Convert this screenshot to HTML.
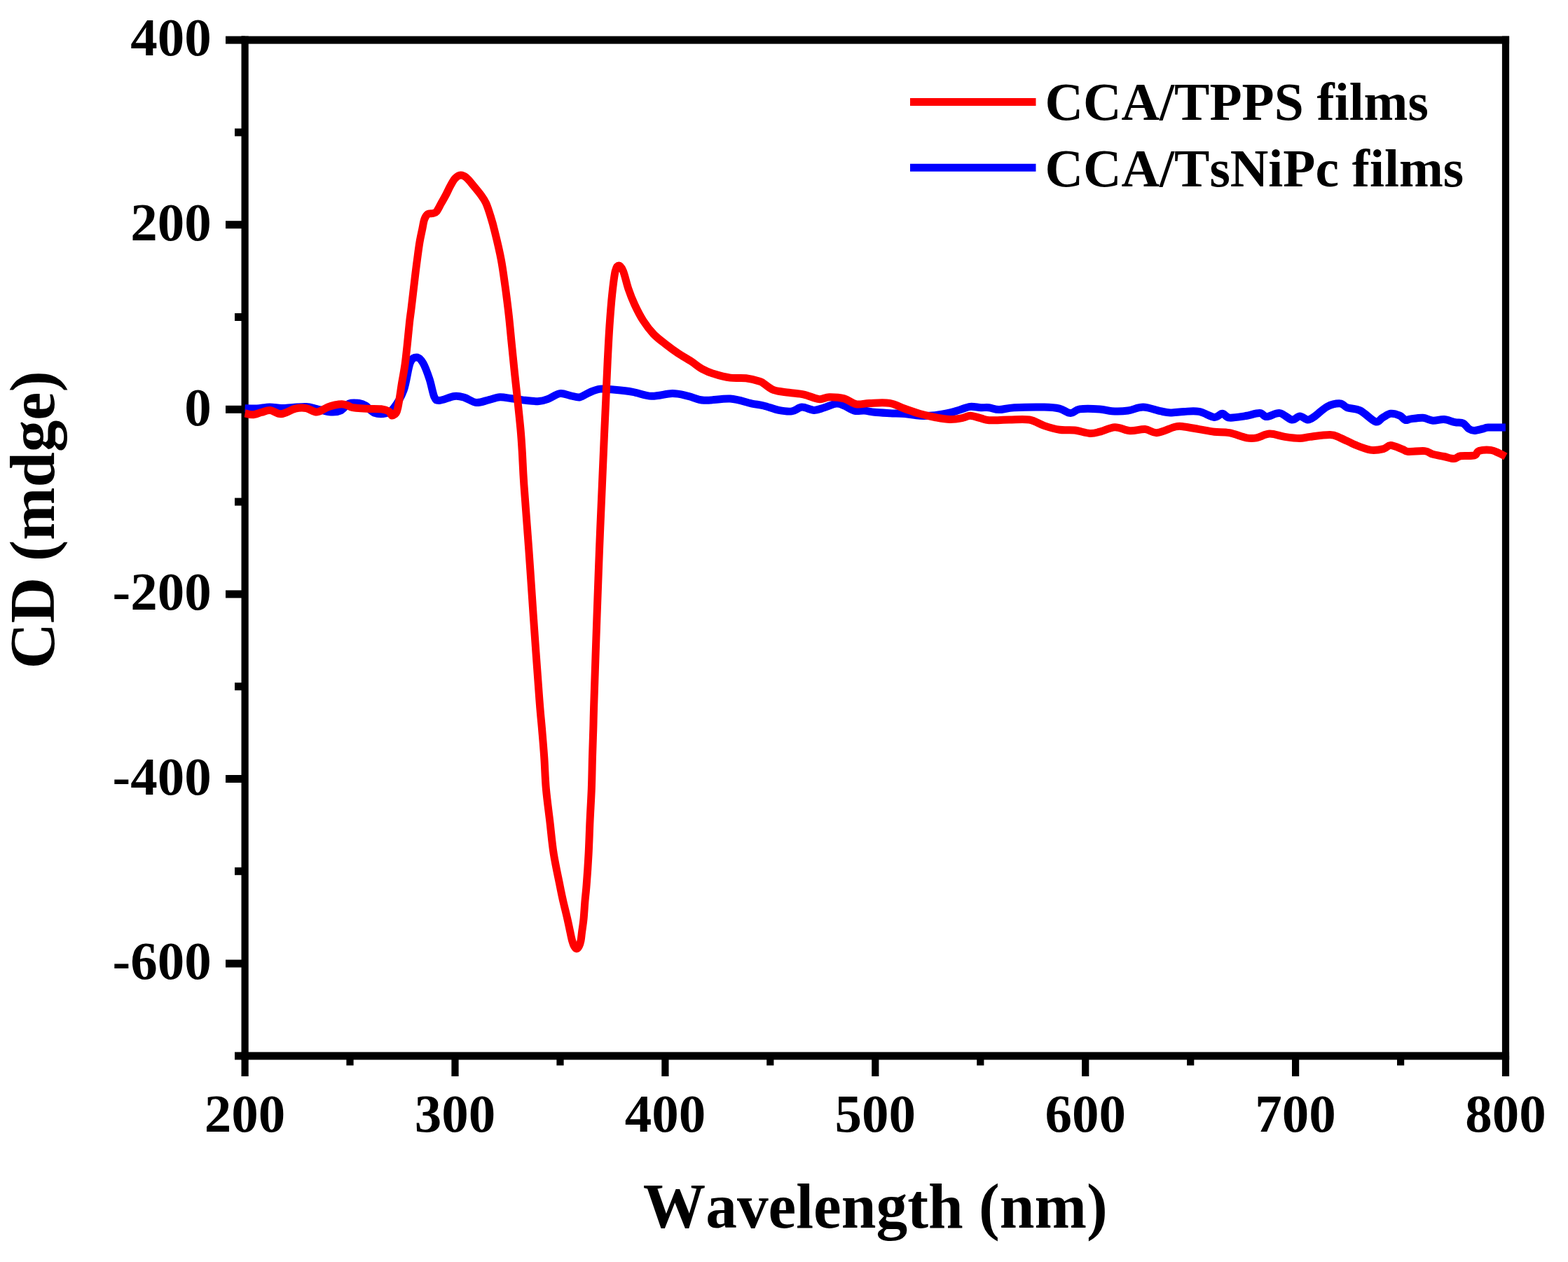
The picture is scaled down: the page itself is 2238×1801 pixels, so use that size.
<!DOCTYPE html>
<html><head><meta charset="utf-8"><title>CD spectra</title>
<style>html,body{margin:0;padding:0;background:#fff;}svg{display:block;}</style>
</head><body>
<svg width="2238" height="1801" viewBox="0 0 2238 1801">
<rect width="2238" height="1801" fill="#fff"/>
<rect x="344.5" y="51.6" width="1809.6" height="11.0" fill="#000"/>
<rect x="344.5" y="1501.4" width="1809.6" height="11.0" fill="#000"/>
<rect x="344.5" y="51.6" width="10.2" height="1460.8" fill="#000"/>
<rect x="2143.9" y="51.6" width="10.2" height="1460.8" fill="#000"/>
<rect x="335.0" y="1501.4" width="14.6" height="11.0" fill="#000"/>
<rect x="322.0" y="1369.6" width="27.6" height="11.0" fill="#000"/>
<rect x="335.0" y="1237.8" width="14.6" height="11.0" fill="#000"/>
<rect x="322.0" y="1106.0" width="27.6" height="11.0" fill="#000"/>
<rect x="335.0" y="974.2" width="14.6" height="11.0" fill="#000"/>
<rect x="322.0" y="842.4" width="27.6" height="11.0" fill="#000"/>
<rect x="335.0" y="710.6" width="14.6" height="11.0" fill="#000"/>
<rect x="322.0" y="578.8" width="27.6" height="11.0" fill="#000"/>
<rect x="335.0" y="447.0" width="14.6" height="11.0" fill="#000"/>
<rect x="322.0" y="315.2" width="27.6" height="11.0" fill="#000"/>
<rect x="335.0" y="183.4" width="14.6" height="11.0" fill="#000"/>
<rect x="322.0" y="51.6" width="27.6" height="11.0" fill="#000"/>
<rect x="344.5" y="1506.9" width="10.2" height="29.1" fill="#000"/>
<rect x="494.4" y="1506.9" width="10.2" height="13.6" fill="#000"/>
<rect x="644.4" y="1506.9" width="10.2" height="29.1" fill="#000"/>
<rect x="794.4" y="1506.9" width="10.2" height="13.6" fill="#000"/>
<rect x="944.3" y="1506.9" width="10.2" height="29.1" fill="#000"/>
<rect x="1094.2" y="1506.9" width="10.2" height="13.6" fill="#000"/>
<rect x="1244.2" y="1506.9" width="10.2" height="29.1" fill="#000"/>
<rect x="1394.2" y="1506.9" width="10.2" height="13.6" fill="#000"/>
<rect x="1544.1" y="1506.9" width="10.2" height="29.1" fill="#000"/>
<rect x="1694.1" y="1506.9" width="10.2" height="13.6" fill="#000"/>
<rect x="1844.0" y="1506.9" width="10.2" height="29.1" fill="#000"/>
<rect x="1994.0" y="1506.9" width="10.2" height="13.6" fill="#000"/>
<rect x="2143.9" y="1506.9" width="10.2" height="29.1" fill="#000"/>
<path d="M349.6,582.7 C352.5,582.8 360.8,583.3 366.7,583.0 C372.6,582.7 379.0,581.1 384.8,581.0 C390.6,580.9 396.0,582.4 401.5,582.5 C407.0,582.6 412.1,581.8 418.0,581.5 C423.9,581.2 431.3,580.2 437.0,580.5 C442.7,580.8 446.1,582.2 452.0,583.5 C457.9,584.8 466.7,587.6 472.4,588.0 C478.1,588.4 481.7,588.0 486.0,586.0 C490.3,584.0 493.5,577.8 498.0,576.0 C502.5,574.2 508.8,575.0 512.8,575.5 C516.8,576.0 518.5,576.8 522.0,579.0 C525.5,581.2 529.3,587.2 534.0,589.0 C538.7,590.8 545.8,591.0 550.4,590.0 C555.0,589.0 557.2,588.5 561.5,583.0 C565.8,577.5 572.1,568.0 576.1,557.2 C580.1,546.4 582.2,525.9 585.3,518.0 C588.4,510.1 591.5,510.0 594.6,510.0 C597.7,510.0 600.7,512.8 603.8,518.0 C606.9,523.2 610.3,532.9 613.0,541.0 C615.7,549.1 617.6,561.3 619.9,566.4 C622.2,571.5 622.0,571.6 626.8,571.5 C631.6,571.4 642.6,566.2 648.6,565.5 C654.6,564.8 657.7,565.9 662.9,567.4 C668.1,568.9 673.9,574.0 679.7,574.5 C685.5,575.0 692.3,571.9 697.9,570.6 C703.5,569.3 708.1,567.1 713.5,566.8 C718.9,566.5 724.3,568.0 730.4,568.7 C736.5,569.5 743.4,570.6 749.9,571.3 C756.4,571.9 764.0,572.9 769.4,572.6 C774.8,572.3 777.3,571.2 782.3,569.4 C787.3,567.6 793.8,562.4 799.2,561.6 C804.6,560.8 810.0,563.9 814.8,564.8 C819.6,565.7 823.5,567.5 827.8,566.8 C832.1,566.0 836.0,562.2 840.8,560.3 C845.6,558.3 850.3,555.8 856.4,555.1 C862.5,554.4 869.7,555.6 877.5,556.3 C885.3,557.0 894.3,557.8 903.0,559.3 C911.7,560.8 920.4,564.9 929.9,565.3 C939.4,565.7 951.1,561.6 959.9,561.6 C968.6,561.6 974.9,563.7 982.4,565.3 C989.9,566.9 994.8,570.7 1004.8,571.3 C1014.8,571.9 1031.0,568.4 1042.3,569.1 C1053.5,569.9 1064.3,574.1 1072.3,575.8 C1080.2,577.4 1083.5,577.4 1090.0,579.0 C1096.5,580.6 1104.9,584.1 1111.6,585.4 C1118.3,586.7 1124.8,587.6 1130.3,586.9 C1135.8,586.2 1139.3,581.4 1144.6,581.1 C1149.9,580.9 1156.6,585.3 1161.9,585.4 C1167.2,585.5 1171.0,583.3 1176.3,581.8 C1181.6,580.2 1188.7,576.6 1193.5,576.1 C1198.3,575.6 1200.7,577.3 1205.0,579.0 C1209.3,580.7 1214.6,584.9 1219.4,586.1 C1224.2,587.3 1229.0,585.7 1233.8,586.1 C1238.6,586.5 1242.2,587.7 1248.2,588.3 C1254.2,588.9 1262.5,589.3 1269.7,589.7 C1276.9,590.1 1284.1,589.9 1291.3,590.5 C1298.5,591.1 1305.7,592.9 1312.9,593.3 C1320.1,593.6 1327.2,593.3 1334.4,592.6 C1341.6,591.9 1350.0,590.3 1356.0,589.0 C1362.0,587.7 1365.6,586.1 1370.4,584.7 C1375.2,583.3 1379.9,580.9 1384.8,580.4 C1389.7,579.9 1395.5,581.5 1400.0,581.7 C1404.5,581.9 1407.3,581.2 1411.6,581.7 C1415.9,582.2 1420.0,584.6 1426.0,584.6 C1432.0,584.6 1436.7,582.3 1447.5,581.7 C1458.3,581.1 1479.8,580.8 1490.6,581.0 C1501.4,581.2 1506.0,581.7 1512.2,583.1 C1518.4,584.5 1523.2,589.5 1528.0,589.6 C1532.8,589.7 1534.0,584.9 1541.0,583.9 C1548.0,582.9 1562.0,583.4 1569.7,583.9 C1577.4,584.4 1580.3,586.4 1587.0,586.7 C1593.7,587.1 1602.6,587.0 1610.0,586.0 C1617.4,585.0 1623.9,580.9 1631.6,581.0 C1639.3,581.1 1649.5,585.4 1656.0,586.7 C1662.5,588.0 1664.7,588.8 1670.4,588.9 C1676.1,589.0 1683.1,587.6 1690.0,587.4 C1696.9,587.1 1704.4,586.1 1711.6,587.4 C1718.8,588.7 1727.6,594.9 1733.1,595.4 C1738.6,595.9 1741.0,590.2 1744.6,590.3 C1748.2,590.4 1749.4,595.5 1754.7,596.1 C1760.0,596.7 1769.1,595.0 1776.3,593.9 C1783.5,592.8 1792.5,589.5 1797.8,589.6 C1803.1,589.7 1803.1,594.6 1807.9,594.6 C1812.7,594.6 1820.6,588.9 1826.6,589.6 C1832.6,590.3 1839.0,598.3 1843.8,599.0 C1848.6,599.7 1851.4,593.9 1855.3,593.9 C1859.2,593.9 1863.3,599.0 1866.9,599.0 C1870.5,599.0 1872.4,597.0 1876.9,593.9 C1881.5,590.8 1888.2,583.3 1894.2,580.3 C1900.2,577.3 1908.1,575.7 1912.9,575.9 C1917.7,576.1 1918.1,580.0 1922.9,581.7 C1927.7,583.4 1934.9,582.6 1941.6,586.0 C1948.3,589.4 1957.9,600.1 1963.2,601.8 C1968.5,603.5 1969.7,598.0 1973.3,596.1 C1976.9,594.2 1980.7,590.8 1984.8,590.3 C1988.9,589.8 1994.4,591.6 1997.9,593.1 C2001.4,594.6 2003.2,598.6 2005.8,599.4 C2008.4,600.2 2009.5,598.4 2013.7,597.9 C2017.9,597.4 2025.8,595.9 2031.0,596.3 C2036.2,596.7 2040.2,599.8 2045.2,600.2 C2050.2,600.6 2055.7,598.2 2061.0,598.6 C2066.3,599.0 2072.2,601.7 2076.8,602.6 C2081.4,603.5 2085.3,602.6 2088.6,604.2 C2091.9,605.8 2093.9,610.3 2096.5,612.0 C2099.1,613.7 2101.1,614.4 2104.4,614.4 C2107.7,614.4 2112.9,612.7 2116.2,612.0 C2119.5,611.3 2118.6,610.4 2124.1,610.1 C2129.6,609.8 2144.8,610.1 2148.9,610.1" fill="none" stroke="#0000ff" stroke-width="11" stroke-linejoin="round" stroke-linecap="butt"/>
<path d="M349.6,589.8 C351.4,590.1 356.5,592.0 360.4,591.8 C364.3,591.6 368.8,589.5 373.0,588.5 C377.2,587.5 381.2,585.1 385.9,585.5 C390.6,585.9 395.2,591.2 401.2,590.8 C407.1,590.4 415.6,584.6 421.6,583.2 C427.6,581.8 431.9,581.8 437.0,582.6 C442.1,583.4 447.1,588.2 452.2,588.0 C457.3,587.8 463.3,582.8 467.6,581.1 C471.9,579.4 474.6,578.7 478.0,578.0 C481.4,577.3 485.0,576.6 488.0,576.7 C491.0,576.8 493.4,577.7 496.0,578.5 C498.6,579.3 498.7,580.8 503.3,581.6 C507.9,582.4 516.9,582.9 523.7,583.2 C530.5,583.6 538.8,583.1 544.0,583.7 C549.2,584.3 552.4,585.5 555.0,587.0 C557.6,588.5 557.8,592.7 559.5,593.0 C561.2,593.3 564.1,591.0 565.5,589.0 C566.9,587.0 567.1,585.2 568.0,581.0 C568.9,576.8 570.1,569.5 571.0,563.7 C571.9,557.9 572.4,553.6 573.6,546.4 C574.8,539.2 576.8,529.1 578.0,520.5 C579.2,511.9 579.9,504.7 581.0,494.6 C582.1,484.5 583.5,469.3 584.5,460.0 C585.5,450.7 586.0,449.0 587.2,438.8 C588.4,428.6 590.6,410.1 591.9,399.0 C593.2,387.9 594.0,381.3 595.2,372.5 C596.4,363.7 597.6,353.7 598.9,346.0 C600.2,338.3 601.8,331.6 602.9,326.1 C604.0,320.6 604.5,316.3 605.8,312.9 C607.1,309.5 608.5,306.9 610.5,305.5 C612.5,304.1 615.6,305.1 617.7,304.5 C619.8,303.9 621.0,304.4 623.0,302.0 C625.0,299.6 627.4,294.3 629.6,290.4 C631.8,286.5 634.1,282.6 636.3,278.4 C638.5,274.2 640.7,269.2 642.9,265.2 C645.1,261.2 647.1,257.1 649.5,254.6 C651.9,252.1 654.9,250.2 657.5,250.0 C660.1,249.8 662.3,250.8 665.4,253.3 C668.5,255.8 672.5,261.0 676.0,265.2 C679.5,269.4 683.6,274.3 686.6,278.4 C689.6,282.5 691.5,285.1 693.7,290.0 C695.9,294.9 697.9,301.3 700.0,308.0 C702.1,314.7 703.7,319.9 706.2,330.4 C708.8,340.8 712.8,357.2 715.3,370.7 C717.8,384.1 719.5,397.7 721.4,411.1 C723.2,424.6 724.9,437.9 726.4,451.4 C727.9,464.8 729.0,478.4 730.4,491.8 C731.8,505.2 733.1,518.6 734.5,532.1 C735.9,545.6 737.5,559.0 738.9,572.5 C740.3,586.0 741.9,600.7 743.0,612.8 C744.1,624.9 744.5,631.8 745.3,645.0 C746.1,658.2 746.3,669.0 747.9,692.2 C749.5,715.4 752.6,753.6 754.8,784.3 C757.0,815.0 758.6,840.5 761.1,876.5 C763.6,912.5 767.9,972.8 770.0,1000.0 C772.1,1027.2 772.4,1026.7 773.5,1040.0 C774.6,1053.3 775.7,1065.7 776.7,1080.0 C777.7,1094.3 778.0,1110.7 779.4,1126.1 C780.8,1141.5 783.0,1156.8 784.8,1172.2 C786.6,1187.6 787.8,1202.9 790.2,1218.2 C792.6,1233.5 797.0,1253.1 799.2,1264.3 C801.4,1275.5 801.9,1277.7 803.6,1285.4 C805.4,1293.1 808.0,1303.3 809.7,1310.7 C811.4,1318.1 812.6,1324.5 813.8,1329.8 C814.9,1335.1 815.6,1339.0 816.6,1342.4 C817.6,1345.9 818.5,1348.6 819.6,1350.5 C820.7,1352.4 821.9,1354.0 823.0,1354.0 C824.1,1354.0 825.4,1352.4 826.4,1350.5 C827.4,1348.6 828.3,1345.9 829.0,1342.4 C829.7,1339.0 829.9,1335.1 830.6,1329.8 C831.3,1324.5 832.4,1318.1 833.1,1310.7 C833.8,1303.3 834.3,1293.5 835.0,1285.4 C835.7,1277.3 836.4,1273.2 837.2,1262.0 C838.1,1250.8 839.3,1233.2 840.1,1218.2 C840.9,1203.2 841.3,1187.6 842.0,1172.2 C842.7,1156.8 843.7,1141.5 844.3,1126.1 C844.9,1110.7 845.1,1094.3 845.5,1080.0 C845.9,1065.7 846.4,1053.3 846.8,1040.0 C847.2,1026.7 847.0,1027.2 847.9,1000.0 C848.8,972.8 850.8,912.5 852.1,876.5 C853.4,840.5 854.3,815.0 855.5,784.3 C856.7,753.6 858.2,719.6 859.4,692.2 C860.6,664.8 861.6,640.4 862.5,620.0 C863.4,599.6 864.0,587.5 864.8,570.0 C865.6,552.5 866.3,532.5 867.2,515.0 C868.1,497.5 868.9,480.7 870.0,464.9 C871.1,449.1 872.3,433.0 873.7,420.0 C875.1,407.0 876.6,393.8 878.2,387.0 C879.8,380.2 881.6,379.0 883.5,379.0 C885.4,379.0 887.2,381.4 889.5,387.0 C891.8,392.6 894.3,404.5 897.0,412.5 C899.7,420.5 902.4,427.4 905.9,434.9 C909.4,442.4 913.4,450.4 917.9,457.4 C922.4,464.4 927.4,471.1 932.9,476.9 C938.4,482.6 945.1,487.4 950.9,491.9 C956.6,496.4 961.4,499.9 967.4,503.9 C973.4,507.9 981.2,512.2 986.9,515.9 C992.6,519.6 996.3,523.3 1001.8,526.3 C1007.3,529.3 1013.0,531.7 1019.8,533.8 C1026.5,535.9 1034.8,538.1 1042.3,539.1 C1049.8,540.1 1057.8,538.9 1064.8,539.8 C1071.8,540.7 1080.1,543.0 1084.3,544.3 C1088.5,545.5 1086.7,545.2 1090.0,547.3 C1093.3,549.4 1098.4,554.5 1104.4,556.7 C1110.4,558.9 1118.7,559.2 1125.9,560.3 C1133.1,561.4 1140.3,561.5 1147.5,563.1 C1154.7,564.7 1163.1,569.0 1169.1,569.6 C1175.1,570.2 1177.5,566.8 1183.5,566.7 C1189.5,566.6 1198.5,567.2 1205.0,568.9 C1211.5,570.6 1216.3,575.7 1222.3,576.8 C1228.3,577.9 1233.1,575.6 1241.0,575.4 C1248.9,575.2 1261.3,574.1 1269.7,575.4 C1278.1,576.7 1284.1,580.8 1291.3,583.3 C1298.5,585.8 1305.7,588.5 1312.9,590.5 C1320.1,592.5 1327.2,594.2 1334.4,595.5 C1341.6,596.8 1349.3,598.3 1356.0,598.4 C1362.7,598.5 1369.9,597.1 1374.7,596.2 C1379.5,595.4 1380.6,593.2 1384.8,593.3 C1389.0,593.4 1395.5,595.8 1400.0,596.9 C1404.5,598.0 1404.9,599.4 1411.6,599.7 C1418.3,600.1 1430.7,599.1 1440.3,599.0 C1449.9,598.9 1460.7,597.6 1469.1,599.0 C1477.5,600.4 1483.4,605.2 1490.6,607.6 C1497.8,610.0 1505.0,612.2 1512.2,613.3 C1519.4,614.4 1526.6,613.1 1533.8,614.0 C1541.0,614.9 1549.3,618.0 1555.3,618.4 C1561.3,618.8 1563.7,617.7 1569.7,616.2 C1575.7,614.8 1584.1,609.9 1591.3,609.7 C1598.5,609.5 1605.7,614.3 1612.9,614.8 C1620.1,615.3 1627.9,612.1 1634.4,612.6 C1640.9,613.1 1644.5,618.2 1651.7,617.6 C1658.9,617.0 1671.2,610.4 1677.6,609.0 C1684.0,607.6 1684.3,608.4 1690.0,609.0 C1695.7,609.6 1704.4,611.4 1711.6,612.6 C1718.8,613.8 1725.9,615.4 1733.1,616.2 C1740.3,617.0 1747.0,616.2 1754.7,617.6 C1762.4,619.0 1772.6,623.6 1779.1,624.8 C1785.6,626.0 1788.0,625.8 1793.5,624.8 C1799.0,623.8 1805.5,619.3 1812.2,619.1 C1818.9,618.9 1826.6,622.3 1833.8,623.4 C1841.0,624.5 1849.3,625.6 1855.3,625.6 C1861.3,625.6 1862.5,624.2 1869.7,623.4 C1876.9,622.5 1891.3,620.3 1898.5,620.5 C1905.7,620.7 1906.9,622.4 1912.9,624.8 C1918.9,627.2 1927.2,632.0 1934.4,634.9 C1941.6,637.8 1949.3,641.1 1956.0,642.1 C1962.7,643.1 1969.9,641.7 1974.7,640.6 C1979.5,639.5 1980.3,635.5 1984.8,635.6 C1989.3,635.7 1997.6,639.7 2001.8,641.2 C2006.0,642.7 2004.4,644.0 2009.7,644.4 C2015.0,644.8 2027.5,643.0 2033.4,643.6 C2039.3,644.2 2040.6,647.0 2045.2,648.3 C2049.8,649.6 2056.0,650.5 2061.0,651.5 C2066.0,652.5 2071.3,654.7 2075.2,654.6 C2079.1,654.5 2079.7,651.5 2084.6,650.7 C2089.5,649.9 2100.1,651.1 2104.4,649.9 C2108.8,648.7 2106.8,644.9 2110.7,643.6 C2114.6,642.4 2123.2,641.9 2128.0,642.4 C2132.8,642.9 2136.3,645.3 2139.8,646.8 C2143.3,648.3 2147.4,650.7 2148.9,651.5" fill="none" stroke="#ff0000" stroke-width="11" stroke-linejoin="round" stroke-linecap="butt"/>
<text x="301.7" y="1397.4" text-anchor="end" style="font-family:'Liberation Serif','Times New Roman',serif;font-weight:bold;font-kerning:none;font-size:77px">-600</text>
<text x="301.7" y="1133.8" text-anchor="end" style="font-family:'Liberation Serif','Times New Roman',serif;font-weight:bold;font-kerning:none;font-size:77px">-400</text>
<text x="301.7" y="870.2" text-anchor="end" style="font-family:'Liberation Serif','Times New Roman',serif;font-weight:bold;font-kerning:none;font-size:77px">-200</text>
<text x="301.7" y="606.6" text-anchor="end" style="font-family:'Liberation Serif','Times New Roman',serif;font-weight:bold;font-kerning:none;font-size:77px">0</text>
<text x="301.7" y="343.0" text-anchor="end" style="font-family:'Liberation Serif','Times New Roman',serif;font-weight:bold;font-kerning:none;font-size:77px">200</text>
<text x="301.7" y="79.4" text-anchor="end" style="font-family:'Liberation Serif','Times New Roman',serif;font-weight:bold;font-kerning:none;font-size:77px">400</text>
<text x="349.6" y="1615.3" text-anchor="middle" style="font-family:'Liberation Serif','Times New Roman',serif;font-weight:bold;font-kerning:none;font-size:77px">200</text>
<text x="649.5" y="1615.3" text-anchor="middle" style="font-family:'Liberation Serif','Times New Roman',serif;font-weight:bold;font-kerning:none;font-size:77px">300</text>
<text x="949.4" y="1615.3" text-anchor="middle" style="font-family:'Liberation Serif','Times New Roman',serif;font-weight:bold;font-kerning:none;font-size:77px">400</text>
<text x="1249.3" y="1615.3" text-anchor="middle" style="font-family:'Liberation Serif','Times New Roman',serif;font-weight:bold;font-kerning:none;font-size:77px">500</text>
<text x="1549.2" y="1615.3" text-anchor="middle" style="font-family:'Liberation Serif','Times New Roman',serif;font-weight:bold;font-kerning:none;font-size:77px">600</text>
<text x="1849.1" y="1615.3" text-anchor="middle" style="font-family:'Liberation Serif','Times New Roman',serif;font-weight:bold;font-kerning:none;font-size:77px">700</text>
<text x="2149.0" y="1615.3" text-anchor="middle" style="font-family:'Liberation Serif','Times New Roman',serif;font-weight:bold;font-kerning:none;font-size:77px">800</text>
<text x="1249.3" y="1752" text-anchor="middle" textLength="662.9" lengthAdjust="spacingAndGlyphs" style="font-family:'Liberation Serif','Times New Roman',serif;font-weight:bold;font-kerning:none;font-size:90px">Wavelength (nm)</text>
<text transform="translate(77,742) rotate(-90)" x="0" y="0" text-anchor="middle" style="font-family:'Liberation Serif','Times New Roman',serif;font-weight:bold;font-kerning:none;font-size:90.6px">CD (mdge)</text>
<line x1="1299" y1="145.5" x2="1478.5" y2="145.5" stroke="#f00" stroke-width="11"/>
<line x1="1299" y1="239.3" x2="1478.5" y2="239.3" stroke="#00f" stroke-width="11"/>
<text x="1491.5" y="171" style="font-family:'Liberation Serif','Times New Roman',serif;font-weight:bold;font-kerning:none;font-size:75.5px">CCA/TPPS films</text>
<text x="1491.5" y="265.7" style="font-family:'Liberation Serif','Times New Roman',serif;font-weight:bold;font-kerning:none;font-size:75.5px">CCA/TsNiPc films</text>
</svg>
</body></html>
